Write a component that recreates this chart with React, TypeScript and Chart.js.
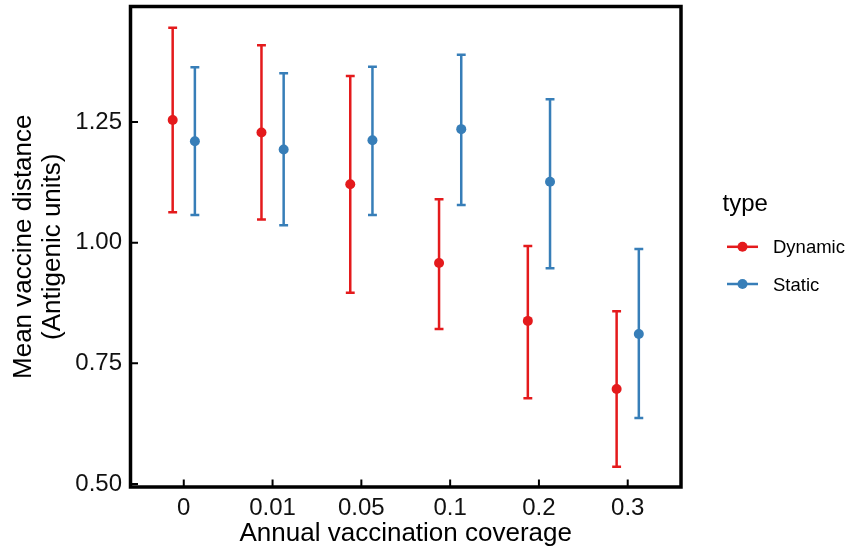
import React, { useEffect, useRef } from "react";
import { Chart, registerables } from "chart.js";

Chart.register(...registerables);

const categories = ["0", "0.01", "0.05", "0.1", "0.2", "0.3"];
const seriesNames = ["Dynamic", "Static"];
const seriesColors = ["#E41A1C", "#377EB8"];

const dynamicMean = [1.254, 1.228, 1.121, 0.958, 0.838, 0.697];
const dynamicUpper = [1.445, 1.409, 1.345, 1.090, 0.993, 0.858];
const dynamicLower = [1.063, 1.048, 0.896, 0.821, 0.678, 0.536];

const staticMean = [1.210, 1.193, 1.212, 1.235, 1.126, 0.811];
const staticUpper = [1.363, 1.351, 1.364, 1.389, 1.297, 0.987];
const staticLower = [1.057, 1.036, 1.057, 1.078, 0.947, 0.637];

const yTicks = [0.5, 0.75, 1.0, 1.25];
const yMin = 0.494;
const yMax = 1.489;
const dodge = 0.125;
const capHalf = 0.05;

const FONT = "'Liberation Sans', Arial, Helvetica, sans-serif";

const means = [dynamicMean, staticMean];
const uppers = [dynamicUpper, staticUpper];
const lowers = [dynamicLower, staticLower];
const offsets = [-dodge, dodge];

const errorBarPlugin = {
  id: "errorBars",
  beforeDatasetsDraw(chart: any) {
    const { ctx, scales } = chart;
    const xs = scales.x;
    const ys = scales.y;
    ctx.save();
    ctx.lineWidth = 2.5;
    ctx.lineCap = "butt";
    for (let s = 0; s < 2; s++) {
      ctx.strokeStyle = seriesColors[s];
      for (let i = 0; i < categories.length; i++) {
        const xc = i + offsets[s];
        const px = xs.getPixelForValue(xc);
        const pl = xs.getPixelForValue(xc - capHalf);
        const pr = xs.getPixelForValue(xc + capHalf);
        const pu = ys.getPixelForValue(uppers[s][i]);
        const pd = ys.getPixelForValue(lowers[s][i]);
        ctx.beginPath();
        ctx.moveTo(px, pu);
        ctx.lineTo(px, pd);
        ctx.moveTo(pl, pu);
        ctx.lineTo(pr, pu);
        ctx.moveTo(pl, pd);
        ctx.lineTo(pr, pd);
        ctx.stroke();
      }
    }
    ctx.restore();
  },
};

const framePlugin = {
  id: "frame",
  afterDatasetsDraw(chart: any) {
    const { ctx, chartArea, scales } = chart;
    const { left, right, top, bottom } = chartArea;
    ctx.save();
    ctx.strokeStyle = "#000";
    ctx.lineWidth = 2;
    ctx.beginPath();
    for (const v of yTicks) {
      const py = scales.y.getPixelForValue(v);
      ctx.moveTo(left, py);
      ctx.lineTo(left + 7.5, py);
    }
    for (let i = 0; i < categories.length; i++) {
      const px = scales.x.getPixelForValue(i);
      ctx.moveTo(px, bottom);
      ctx.lineTo(px, bottom - 7.5);
    }
    ctx.stroke();
    ctx.lineWidth = 3.5;
    ctx.strokeRect(left, top, right - left, bottom - top);
    ctx.restore();
  },
};

const legendPlugin = {
  id: "ggLegend",
  afterDraw(chart: any) {
    const { ctx } = chart;
    ctx.save();
    ctx.fillStyle = "#000";
    ctx.textAlign = "left";
    ctx.textBaseline = "alphabetic";
    ctx.font = `24px ${FONT}`;
    ctx.fillText("type", 722.5, 210.5);
    const keyY = [246.8, 284];
    ctx.font = `18.5px ${FONT}`;
    for (let s = 0; s < 2; s++) {
      const y = keyY[s];
      ctx.strokeStyle = seriesColors[s];
      ctx.fillStyle = seriesColors[s];
      ctx.lineWidth = 2.5;
      ctx.beginPath();
      ctx.moveTo(727, y);
      ctx.lineTo(758, y);
      ctx.stroke();
      ctx.beginPath();
      ctx.arc(742.5, y, 5, 0, Math.PI * 2);
      ctx.fill();
      ctx.fillStyle = "#000";
      ctx.fillText(seriesNames[s], 773, y + 6.5);
    }
    ctx.restore();
  },
};

export default function App() {
  const ref = useRef<HTMLCanvasElement | null>(null);
  useEffect(() => {
    if (!ref.current) return;
    const datasets = [0, 1].map((s) => ({
      label: seriesNames[s],
      data: categories.map((_, i) => ({ x: i + offsets[s], y: means[s][i] })),
      backgroundColor: seriesColors[s],
      borderColor: seriesColors[s],
      pointRadius: 5,
      pointBorderWidth: 0,
      pointHoverRadius: 5,
      showLine: false,
    }));
    const chart = new Chart(ref.current, {
      type: "scatter",
      data: { datasets },
      plugins: [errorBarPlugin, framePlugin, legendPlugin],
      options: {
        animation: false,
        responsive: false,
        maintainAspectRatio: false,
        layout: { padding: { left: 0, top: 6.5, right: 172, bottom: 0 } },
        plugins: { legend: { display: false }, tooltip: { enabled: false } },
        scales: {
          x: {
            type: "linear",
            min: -0.6,
            max: 5.6,
            grid: { display: false, drawTicks: false },
            border: { display: false },
            afterBuildTicks: (scale: any) => {
              scale.ticks = categories.map((_, i) => ({ value: i }));
            },
            afterFit: (scale: any) => {
              scale.height = 65;
              scale.paddingLeft = 0;
              scale.paddingRight = 0;
            },
            ticks: {
              autoSkip: false,
              maxRotation: 0,
              padding: 6.5,
              color: "#111",
              font: { family: FONT, size: 24 },
              callback: (v: any) => categories[Math.round(Number(v))] ?? "",
            },
            title: {
              display: true,
              text: "Annual vaccination coverage",
              color: "#000",
              font: { family: FONT, size: 26, lineHeight: 1.0 },
              padding: { top: 0, bottom: 5 },
            },
          },
          y: {
            type: "linear",
            min: yMin,
            max: yMax,
            grid: { display: false, drawTicks: false },
            border: { display: false },
            afterBuildTicks: (scale: any) => {
              scale.ticks = yTicks.map((v) => ({ value: v }));
            },
            afterFit: (scale: any) => {
              scale.width = 130.5;
              scale.paddingTop = 0;
              scale.paddingBottom = 0;
            },
            ticks: {
              padding: 8.5,
              color: "#111",
              font: { family: FONT, size: 24 },
              callback: (v: any) => Number(v).toFixed(2),
            },
            title: {
              display: true,
              text: ["Mean vaccine distance", "(Antigenic units)"],
              color: "#000",
              font: { family: FONT, size: 26, lineHeight: 1.1 },
              padding: { top: 9.5, bottom: 0 },
            },
          },
        },
      },
    });
    return () => chart.destroy();
  }, []);
  return (
    <div style={{ position: "fixed", left: 0, top: 0, width: 853, height: 552, background: "#fff" }}>
      <canvas ref={ref} width={853} height={552} style={{ width: 853, height: 552, display: "block" }} />
    </div>
  );
}
